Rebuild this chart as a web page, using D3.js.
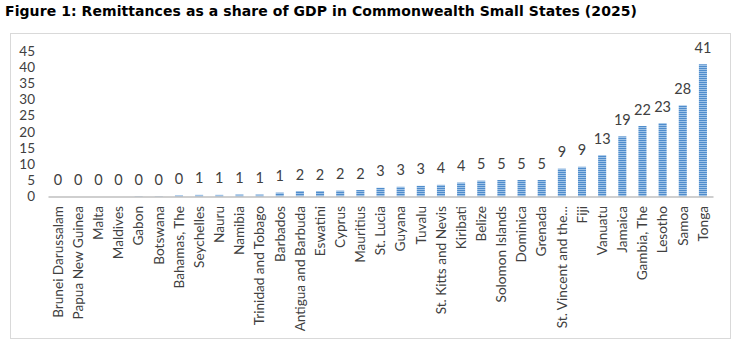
<!DOCTYPE html>
<html>
<head>
<meta charset="utf-8">
<script src="https://cdn.jsdelivr.net/npm/d3@7"></script>
<style>
  body { margin: 0; background: #fff; }
  svg { display: block; }
</style>
</head>
<body>
<div id="chart"></div>
<script>
// Remittances as % of GDP, 2025, sorted ascending
var countries = ["Brunei Darussalam", "Papua New Guinea", "Malta", "Maldives", "Gabon", "Botswana",
  "Bahamas, The", "Seychelles", "Nauru", "Namibia", "Trinidad and Tobago", "Barbados",
  "Antigua and Barbuda", "Eswatini", "Cyprus", "Mauritius", "St. Lucia", "Guyana", "Tuvalu",
  "St. Kitts and Nevis", "Kiribati", "Belize", "Solomon Islands", "Dominica", "Grenada",
  "St. Vincent and the Grenadines", "Fiji", "Vanuatu", "Jamaica", "Gambia, The", "Lesotho",
  "Samoa", "Tonga"];
var remittances = [0.0, 0.0, 0.0, 0.0, 0.1, 0.1,
  0.4, 0.5, 0.5, 0.6, 0.6, 1.2,
  1.7, 1.7, 1.8, 2.0, 2.7, 3.0, 3.3,
  3.6, 4.3, 4.9, 5.1, 5.1, 5.1,
  8.6, 9.2, 12.8, 18.6, 21.8, 22.7,
  28.2, 40.9];
var yTicks = [0, 5, 10, 15, 20, 25, 30, 35, 40, 45];

var W = 740, H = 349;
var font = "Lato, 'Open Sans', sans-serif";
var textCol = "#404040";

var svg = d3.select("#chart").append("svg")
  .attr("width", W)
  .attr("height", H);

// striped fill for the bars
var pat = svg.append("defs").append("pattern")
  .attr("id", "stripes")
  .attr("patternUnits", "userSpaceOnUse")
  .attr("width", 4)
  .attr("height", 2);
pat.append("rect").attr("width", 4).attr("height", 2).attr("fill", "#9fc3e7");
pat.append("rect").attr("width", 4).attr("height", 1).attr("fill", "#4f8ccc");

// title
svg.append("text")
  .attr("x", 5)
  .attr("y", 16)
  .style("font-family", "'DejaVu Sans', Verdana, sans-serif")
  .style("font-size", "14px")
  .style("font-weight", "bold")
  .attr("fill", "#000")
  .attr("textLength", 632)
  .text("Figure 1: Remittances as a share of GDP in Commonwealth Small States (2025)");

// chart frame
svg.append("rect")
  .attr("x", 10.5)
  .attr("y", 33.5)
  .attr("width", 720)
  .attr("height", 305)
  .attr("fill", "none")
  .attr("stroke", "#d9d9d9")
  .attr("stroke-width", 1);

var x = d3.scaleBand()
  .domain(countries)
  .range([48, 713])
  .paddingInner(0.6)
  .paddingOuter(0.3);

var y = d3.scaleLinear()
  .domain([0, 45])
  .range([196.5, 51]);

// y axis labels (no line)
var yAxis = svg.append("g")
  .attr("transform", "translate(35,0)")
  .call(d3.axisLeft(y).tickValues(yTicks).tickSize(0).tickPadding(0));
yAxis.select(".domain").remove();
yAxis.selectAll("text")
  .style("font-family", font)
  .style("font-size", "13.5px")
  .attr("fill", textCol);

// bars
svg.selectAll(".bar")
  .data(remittances)
  .enter()
  .append("rect")
  .attr("class", "bar")
  .attr("x", function (d, i) { return x(countries[i]); })
  .attr("width", x.bandwidth())
  .attr("y", function (d) { return y(d); })
  .attr("height", function (d) { return y(0) - y(d); })
  .attr("fill", "url(#stripes)");

// value labels
svg.selectAll(".val")
  .data(remittances)
  .enter()
  .append("text")
  .attr("class", "val")
  .attr("x", function (d, i) { return x(countries[i]) + x.bandwidth() / 2; })
  .attr("y", function (d) { return y(d) - 11.5; })
  .attr("text-anchor", "middle")
  .style("font-family", font)
  .style("font-size", "14.5px")
  .attr("fill", textCol)
  .text(function (d) { return d3.format(".0f")(d); });

// x axis
var xAxis = svg.append("g")
  .attr("transform", "translate(0," + y(0) + ")")
  .call(d3.axisBottom(x).tickSize(0).tickPadding(0).tickFormat(function (d) {
    return d.length > 22 ? d.slice(0, 19) + "..." : d;
  }));
xAxis.select(".domain")
  .attr("stroke", "#bfbfbf")
  .attr("stroke-width", 1.5);
xAxis.selectAll("text")
  .style("font-family", font)
  .style("font-size", "13.6px")
  .attr("fill", textCol)
  .attr("text-anchor", "end")
  .attr("transform", "rotate(-90)")
  .attr("x", -9.5)
  .attr("y", 0)
  .attr("dy", "0.35em");
</script>
</body>
</html>
